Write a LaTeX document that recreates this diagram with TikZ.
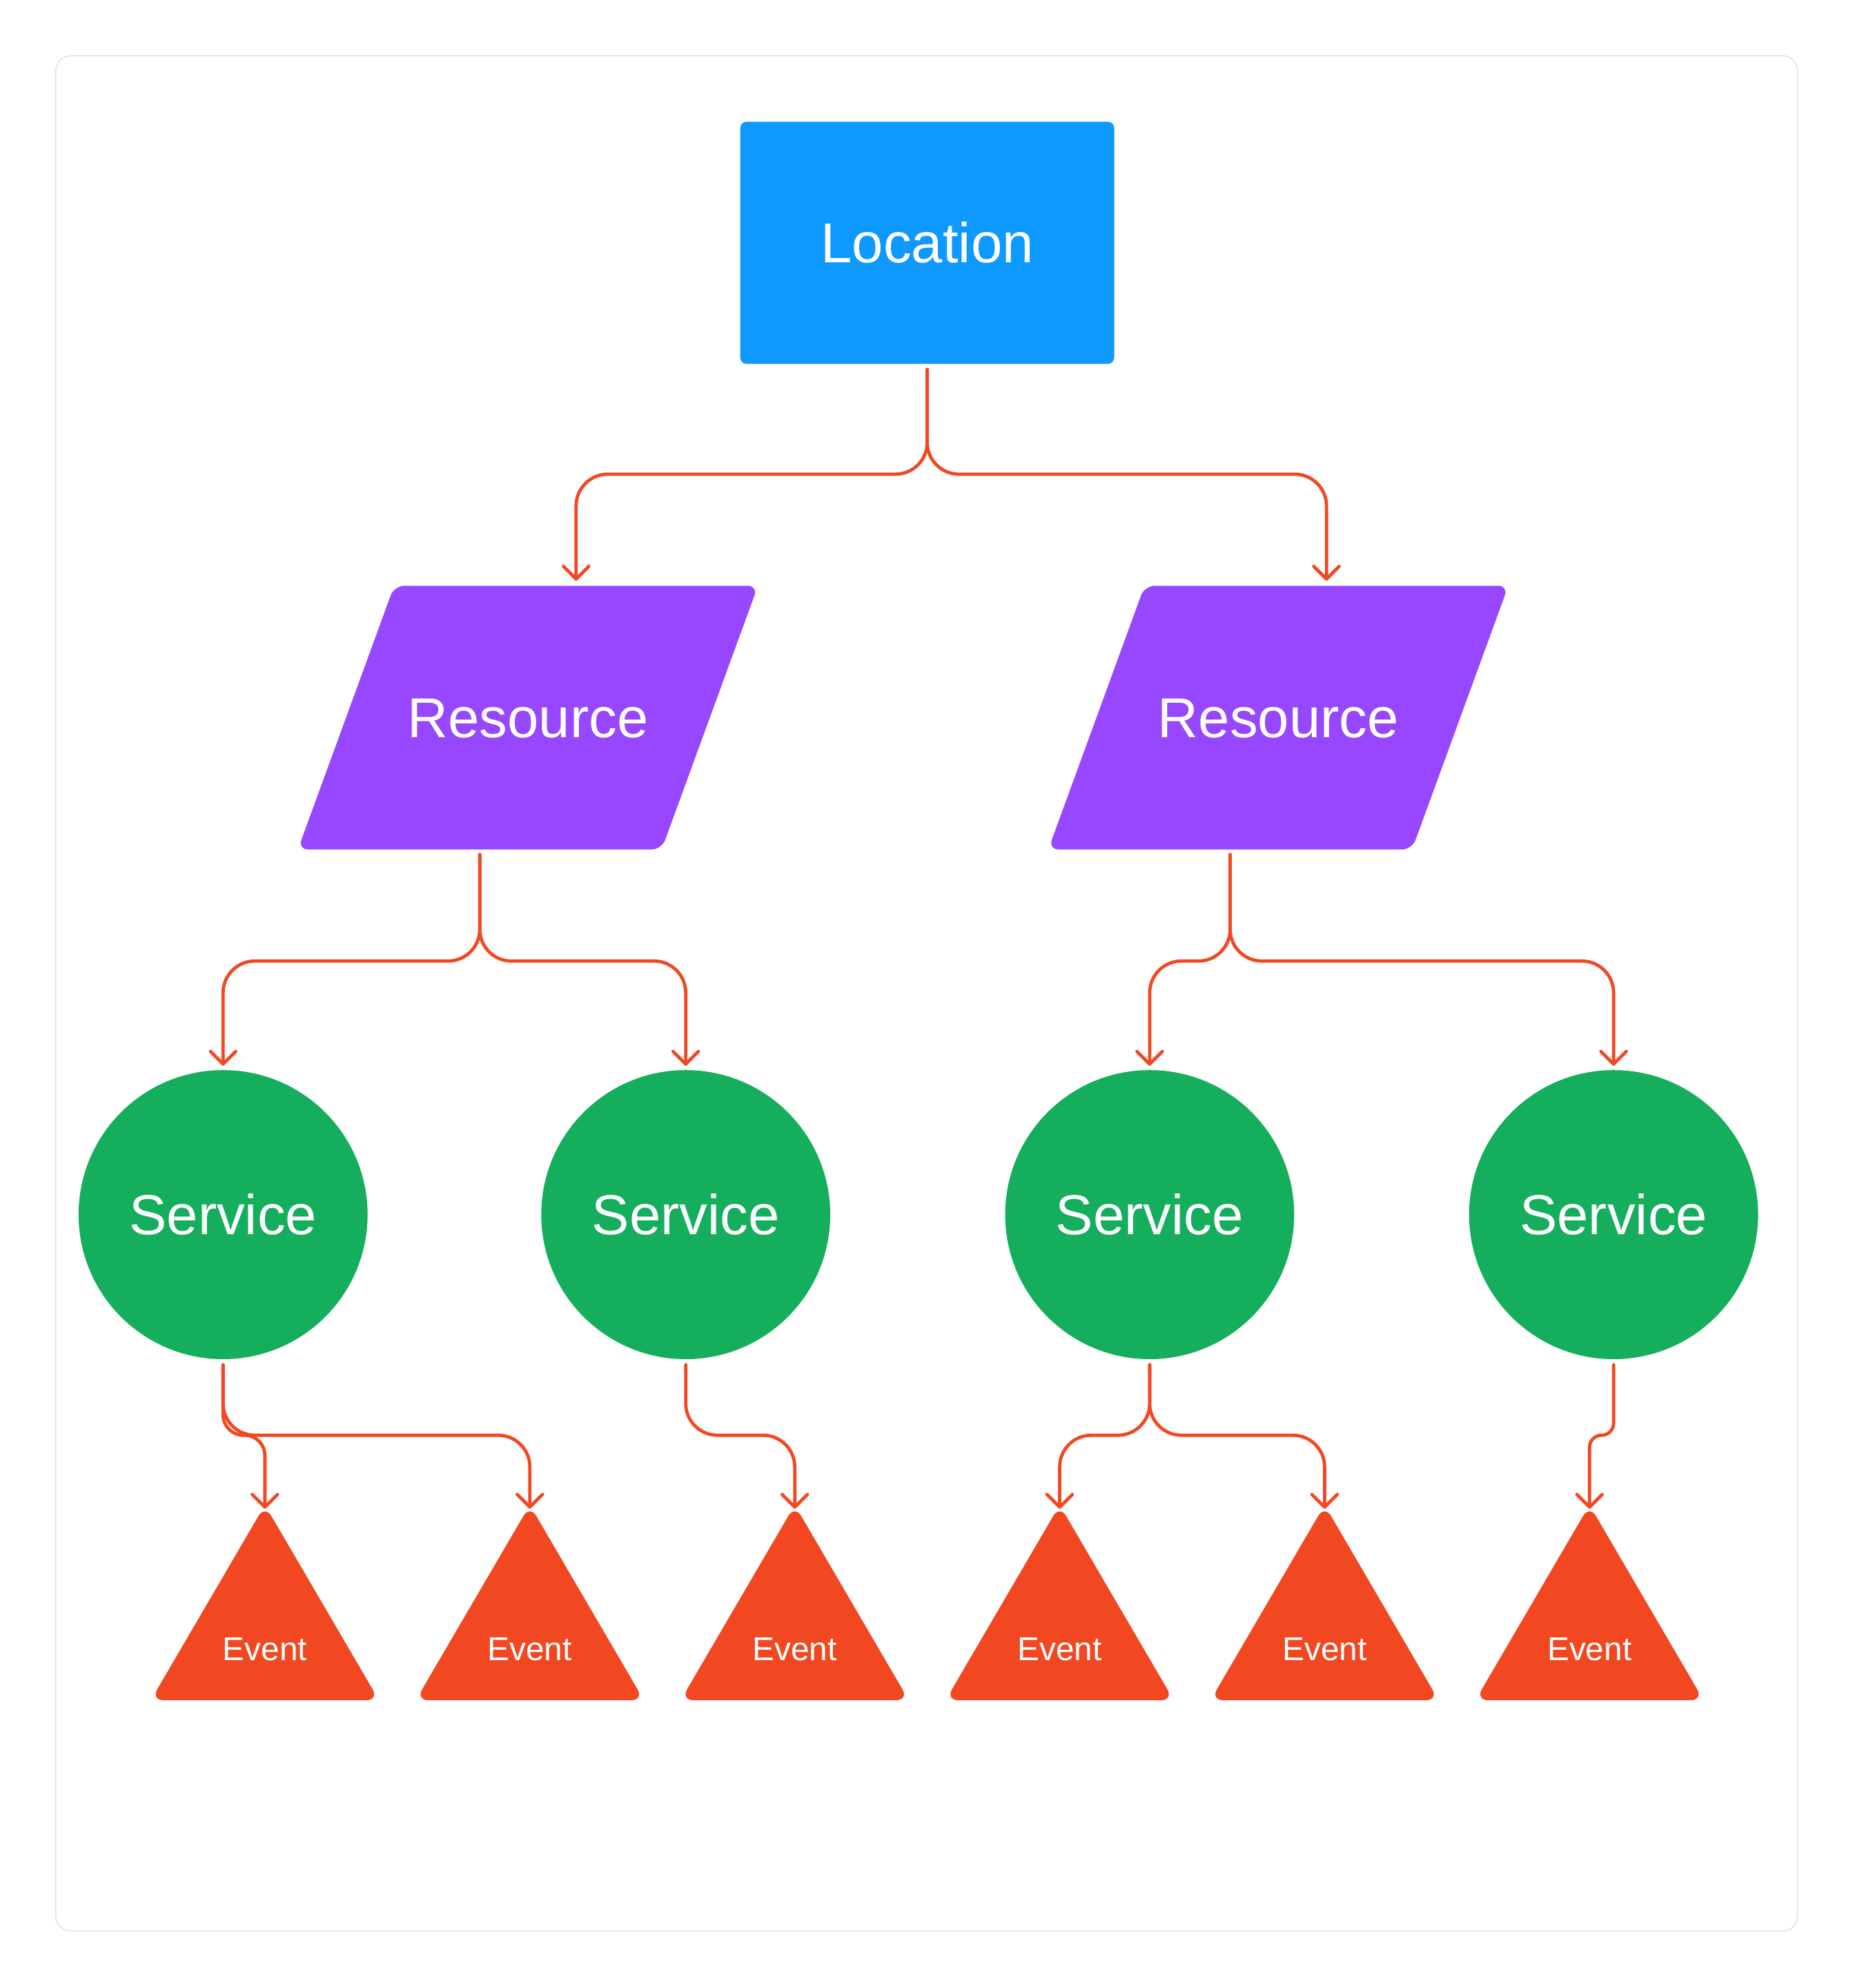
\documentclass[tikz,border=0pt]{standalone}
\usepackage{fontspec}
\setmainfont{Liberation Sans}
\usetikzlibrary{arrows.meta}
\definecolor{locblue}{HTML}{0D99FF}
\definecolor{respurple}{HTML}{9747FF}
\definecolor{servgreen}{HTML}{14AE5C}
\definecolor{evred}{HTML}{F24822}
\definecolor{framegray}{HTML}{E3E3E3}
\begin{document}
\begin{tikzpicture}[x=0.5pt,y=-0.5pt,
  bigfont/.style={font=\fontsize{22.2}{26}\selectfont},
  smallfont/.style={font=\fontsize{13}{15}\selectfont},
  locbox/.style={fill=locblue, rounded corners=2.5pt, minimum width=147.5pt, minimum height=95.5pt, inner sep=0pt, text=white, bigfont},
  servbox/.style={circle, fill=servgreen, minimum size=114pt, inner sep=0pt, text=white, bigfont},
  restext/.style={anchor=base, inner sep=0pt, text=white, bigfont},
  evtext/.style={anchor=base, inner sep=0pt, text=white, smallfont},
  resshape/.style={fill=respurple, rounded corners=4pt},
  evshape/.style={fill=evred, rounded corners=5pt},
  conn/.style={draw=evred, line width=1.3pt, line cap=round, line join=round,
    -{Straight Barb[round,length=5pt,width=10pt]}, rounded corners=12.5pt},
]
\useasboundingbox (0,0) rectangle (1463,1568);
\draw[framegray, line width=0.45pt, rounded corners=5.75pt] (44,44) rectangle (1418,1523);

% Location
\node[locbox] (loc) at (731.5,191.5) {Location};

% Resources
\fill[resshape] (311,462) -- (598,462) -- (522,670) -- (235,670) -- cycle;
\fill[resshape] (903,462) -- (1190,462) -- (1114,670) -- (827,670) -- cycle;
\node[restext] (r1) at (416.5,582) {Resource};
\node[restext] (r2) at (1008.5,582) {Resource};
\coordinate (r1top) at (454.5,462);
\coordinate (r1bot) at (378.5,670);
\coordinate (r2top) at (1046.5,462);
\coordinate (r2bot) at (970.5,670);

% Services
\node[servbox] (s1) at (176,958) {Service};
\node[servbox] (s2) at (541,958) {Service};
\node[servbox] (s3) at (907,958) {Service};
\node[servbox] (s4) at (1273,958) {Service};

% Events
\foreach \i/\x in {1/209,2/418,3/627,4/836,5/1045,6/1254}{
  \fill[evshape] (\x,1187) -- (\x+90,1341) -- (\x-90,1341) -- cycle;
  \coordinate (e\i top) at (\x,1190);
  \node[evtext] (e\i) at (\x,1309.5) {Event};
}

% Connectors
\draw[conn] ([yshift=-2pt]loc.south) -- (731.5,374) -- (454.5,374) -- ([yshift=2pt]r1top);
\draw[conn] ([yshift=-2pt]loc.south) -- (731.5,374) -- (1046.5,374) -- ([yshift=2pt]r2top);

\draw[conn] ([yshift=-2pt]r1bot) -- (378.5,758) -- (176,758) -- ([yshift=1.5pt]s1.north);
\draw[conn] ([yshift=-2pt]r1bot) -- (378.5,758) -- (541,758) -- ([yshift=1.5pt]s2.north);
\draw[conn] ([yshift=-2pt]r2bot) -- (970.5,758) -- (907,758) -- ([yshift=1.5pt]s3.north);
\draw[conn] ([yshift=-2pt]r2bot) -- (970.5,758) -- (1273,758) -- ([yshift=1.5pt]s4.north);

\draw[conn, rounded corners=8pt] ([yshift=-2pt]s1.south) -- (176,1132) -- (209,1132) -- (e1top);
\draw[conn] ([yshift=-2pt]s1.south) -- (176,1132) -- (418,1132) -- (e2top);
\draw[conn] ([yshift=-2pt]s2.south) -- (541,1132) -- (627,1132) -- (e3top);
\draw[conn] ([yshift=-2pt]s3.south) -- (907,1132) -- (836,1132) -- (e4top);
\draw[conn] ([yshift=-2pt]s3.south) -- (907,1132) -- (1045,1132) -- (e5top);
\draw[conn, rounded corners=4.75pt] ([yshift=-2pt]s4.south) -- (1273,1132) -- (1254,1132) -- (e6top);
\end{tikzpicture}
\end{document}
